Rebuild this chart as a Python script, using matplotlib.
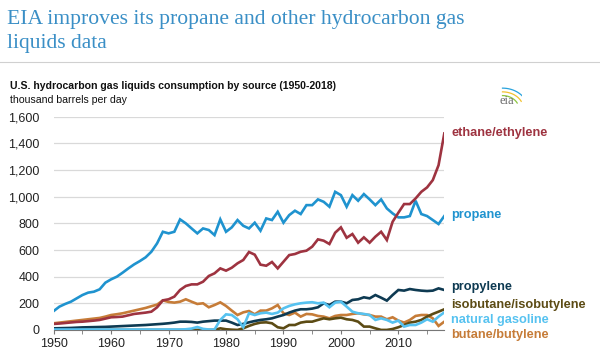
import numpy as np
import matplotlib.pyplot as plt
from matplotlib.ticker import FuncFormatter, MultipleLocator

# --- data (thousand barrels per day) ---
years = list(range(1950, 2019))

ethane = [45, 48, 52, 56, 60, 62, 66, 70, 75, 85, 95, 97, 100, 110, 120, 125, 130, 137, 170, 222,
          230, 250, 300, 330, 342, 342, 362, 405, 425, 462, 445, 467, 500, 525, 585, 565, 490, 482,
          510, 462, 512, 562, 570, 587, 595, 625, 680, 670, 645, 730, 770, 692, 720, 655, 695, 655,
          700, 737, 675, 812, 880, 945, 945, 987, 1037, 1070, 1125, 1237, 1475]

propane = [142, 175, 195, 212, 237, 262, 280, 287, 305, 355, 380, 400, 430, 462, 492, 517, 545, 587,
           650, 737, 725, 737, 830, 800, 762, 725, 762, 750, 712, 830, 737, 770, 825, 782, 762, 805,
           745, 837, 825, 887, 805, 862, 895, 870, 937, 937, 980, 962, 925, 1037, 1012, 925, 1012,
           970, 1020, 980, 937, 980, 912, 875, 845, 845, 855, 970, 870, 855, 825, 795, 855]

propylene = [12, 13, 14, 15, 17, 19, 20, 21, 22, 23, 25, 27, 29, 31, 33, 35, 37, 40, 43, 46, 50, 55,
             62, 62, 60, 55, 62, 66, 70, 70, 70, 55, 37, 45, 57, 67, 75, 80, 87, 100, 112, 130, 145,
             155, 155, 160, 170, 200, 187, 212, 212, 200, 225, 230, 245, 237, 262, 242, 220, 262,
             300, 295, 307, 300, 295, 292, 295, 312, 300]

isobutane = [0] * 29 + [12, 5, 2, 0, 12, 30, 45, 55, 57, 50, 20, 12, 37, 37, 55, 62, 62, 75, 87, 80,
                        87, 92, 80, 75, 62, 25, 25, 12, 0, 0, 7, 20, 37, 55, 62, 75, 100, 120, 137, 155]

natgas = [3] * 23 + [5, 10, 22, 8, 3, 3, 75, 117, 112, 80, 20, 125, 112, 125, 130, 120, 130, 162,
                     180, 192, 200, 205, 208, 200, 205, 170, 205, 212, 175, 137, 125, 120, 112, 75,
                     87, 75, 55, 70, 25, 37, 37, 55, 80, 62, 100, 132]

butane = [50, 55, 60, 65, 70, 75, 80, 85, 90, 100, 112, 118, 125, 135, 145, 155, 165, 178, 190, 222,
          210, 205, 212, 230, 212, 195, 200, 170, 187, 207, 180, 145, 112, 132, 142, 117, 145, 145,
          162, 187, 125, 112, 130, 100, 120, 117, 105, 100, 87, 105, 112, 112, 120, 125, 117, 112,
          100, 100, 80, 95, 70, 55, 75, 105, 112, 112, 87, 30, 62]

names = ["ethane/ethylene", "propane", "propylene", "isobutane/isobutylene",
         "natural gasoline", "butane/butylene"]

colors = {
    "ethane/ethylene": "#9e3340",
    "propane": "#1f93cf",
    "propylene": "#0e3a52",
    "isobutane/isobutylene": "#5c4b14",
    "natural gasoline": "#56c2f0",
    "butane/butylene": "#c67c38",
}

label_y = {
    "ethane/ethylene": 1475,
    "propane": 865,
    "propylene": 320,
    "isobutane/isobutylene": 190,
    "natural gasoline": 75,
    "butane/butylene": -35,
}

series = {
    "ethane/ethylene": ethane,
    "propane": propane,
    "propylene": propylene,
    "isobutane/isobutylene": isobutane,
    "natural gasoline": natgas,
    "butane/butylene": butane,
}

plt.rcParams['font.family'] = ['Liberation Sans', 'DejaVu Sans']

fig = plt.figure(figsize=(6.0, 3.54), dpi=100)

# headline, two lines placed by baseline
title_kw = dict(family="Liberation Serif", fontsize=15.6, color="#3a8fc6", ha="left",
                va="baseline")
fig.text(0.012, 0.932, "EIA improves its propane and other hydrocarbon gas", **title_kw)
fig.text(0.012, 0.864, "liquids data", **title_kw)
fig.add_artist(plt.Line2D([0, 1], [0.824, 0.824], color="#d0d0d0", lw=0.8))

fig.text(0.017, 0.757, "U.S. hydrocarbon gas liquids consumption by source (1950-2018)",
         fontsize=7.6, fontweight="bold", color="#111111", va="center")
fig.text(0.017, 0.717, "thousand barrels per day", fontsize=7.6, color="#111111", va="center")

# small eia logo
lax = fig.add_axes([0.82, 0.695, 0.05, 0.07])
lax.set_xlim(0, 1)
lax.set_ylim(0, 1)
lax.axis("off")
lax.text(0.5, 0.05, "eia", family="Liberation Serif", fontsize=9, color="#666666",
         ha="center", va="bottom")
t = np.linspace(0.15, 0.5, 20) * np.pi
for r, c in [(0.55, "#8cc63f"), (0.7, "#f2c230"), (0.85, "#29a3dd")]:
    lax.plot(0.35 + r * np.cos(t), -0.05 + r * np.sin(t), color=c, lw=0.9)

# main chart
ax = fig.add_axes([0.0895, 0.068, 0.651, 0.602])
order = ["butane/butylene", "isobutane/isobutylene", "propylene", "natural gasoline",
         "propane", "ethane/ethylene"]
for n in order:
    ax.plot(years, series[n], color=colors[n], lw=1.9, solid_joinstyle="miter", zorder=3)

for n in names:
    ax.text(2019.2, label_y[n], n, color=colors[n], fontsize=9.2, fontweight="bold",
            va="center", ha="left", clip_on=False)

ax.set_xlim(1950, 2018)
ax.set_ylim(0, 1600)
ax.yaxis.set_major_locator(MultipleLocator(200))
ax.yaxis.set_major_formatter(FuncFormatter(lambda v, p: f"{int(v):,}"))
ax.xaxis.set_major_locator(MultipleLocator(10))
ax.xaxis.set_minor_locator(MultipleLocator(5))
ax.grid(axis="y", color="#d9d9d9", lw=0.9, zorder=0)
for s in ["top", "right", "left"]:
    ax.spines[s].set_visible(False)
ax.spines["bottom"].set_color("#777777")
ax.spines["bottom"].set_linewidth(0.8)
ax.tick_params(axis="y", length=0, labelsize=9, colors="#222222", pad=10)
ax.tick_params(axis="x", which="major", length=3, labelsize=9, colors="#222222",
               color="#777777", pad=3)
ax.tick_params(axis="x", which="minor", length=3, color="#777777")

fig.savefig("out.png", dpi=100)
